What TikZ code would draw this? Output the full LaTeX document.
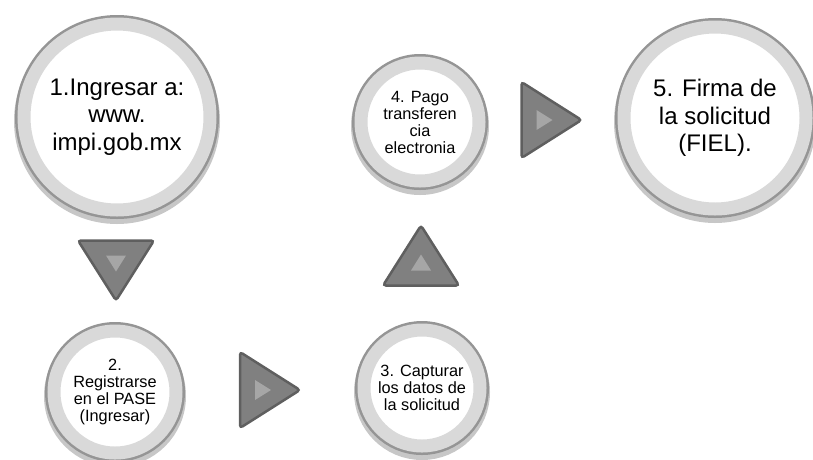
\documentclass[tikz,border=0pt]{standalone}
\usepackage{fontspec}
\setmainfont{Liberation Sans}
\usetikzlibrary{calc}

\definecolor{ringgray}{HTML}{D9D9D9}
\definecolor{ringedge}{HTML}{959595}
\definecolor{trifill}{HTML}{808080}
\definecolor{triedge}{HTML}{5F5F5F}
\definecolor{trilight}{HTML}{A6A6A6}

\tikzset{
  stepcircle/.style={circle, inner sep=0pt, align=center, fill=white,
    draw=ringgray, line width=13pt,
    preaction={draw=black, draw opacity=0.22, line width=20pt, transform canvas={yshift=-4pt}},
    preaction={draw=ringedge, line width=18pt}},
  bigtext/.style={font=\fontsize{24}{27.5}\selectfont},
  smalltext/.style={font=\fontsize{16.3}{17}\selectfont},
  steparrow/.pic={
    \filldraw[fill=trifill, draw=triedge, line width=2.5pt, rounded corners=3pt]
      (-30,-38) -- (30,0) -- (-30,38) -- cycle;
    \fill[trilight] (-15,-10) -- (1,0) -- (-15,10) -- cycle;
  }
}

\begin{document}
\begin{tikzpicture}[x=1pt,y=1pt]
\useasboundingbox (0,0) rectangle (813,-459);
% pasos
\node[stepcircle, bigtext, minimum size=186pt] (ingreso) at (117,-117) {1.Ingresar a:\\www.\\impi.gob.mx};
\node[stepcircle, smalltext, minimum size=122pt] (registro) at (115,-392) {2.\\Registrarse\\en el PASE\\(Ingresar)};
\node[stepcircle, smalltext, minimum size=116pt] (captura) at (422,-388) {3. Capturar\\los datos de\\la solicitud};
\node[stepcircle, smalltext, minimum size=118pt] (pago) at (420,-122) {4. Pago\\transferen\\cia\\electronia};
\node[stepcircle, bigtext, minimum size=182pt] (firma) at (715,-118) {5. Firma de\\la solicitud\\(FIEL).};
% flechas
\pic[rotate=-90] at ($(ingreso.south)!0.5!(registro.north)$) {steparrow};
\pic at ($(registro.east)!0.5!(captura.west)$) {steparrow};
\pic[rotate=90] at ($(captura.north)!0.5!(pago.south)$) {steparrow};
\pic at ($(pago.east)!0.5!(firma.west)$) {steparrow};
\end{tikzpicture}
\end{document}
